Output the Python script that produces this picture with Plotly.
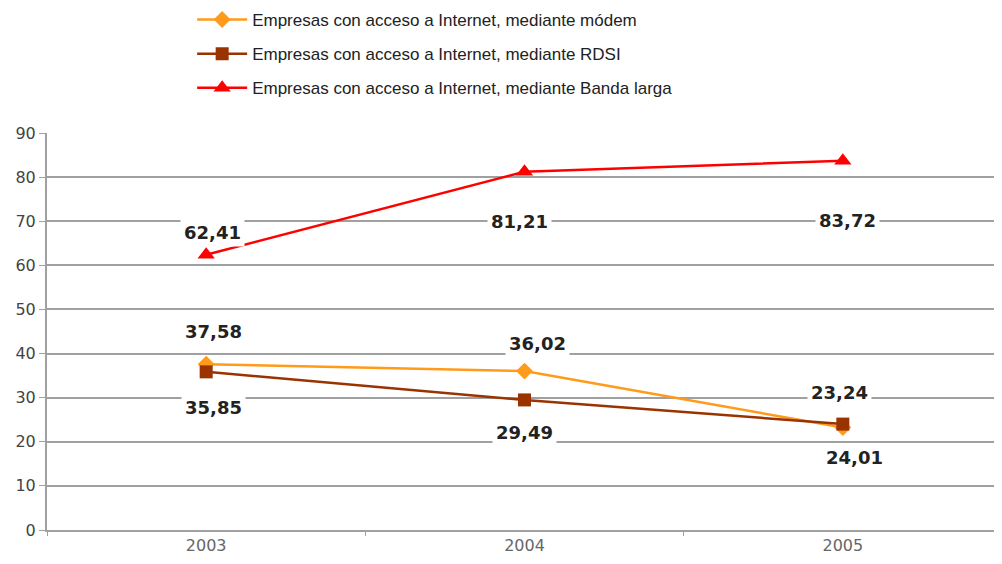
import plotly.graph_objects as go

years = ["2003", "2004", "2005"]
modem = [37.58, 36.02, 23.24]
rdsi = [35.85, 29.49, 24.01]
banda = [62.41, 81.21, 83.72]
names = [
    "Empresas con acceso a Internet, mediante módem",
    "Empresas con acceso a Internet, mediante RDSI",
    "Empresas con acceso a Internet, mediante Banda larga",
]
y_ticks = [0, 10, 20, 30, 40, 50, 60, 70, 80, 90]

# label offsets (pixels) per series/point
modem_off = [(7, 33), (13, 28), (-3, 35)]
rdsi_off = [(7, -36), (0, -33), (12, -33)]
banda_off = [(6, 22), (-5, -50), (5, -60)]

fig = go.Figure()
fig.add_trace(go.Scatter(x=years, y=modem, name=names[0], mode="lines+markers",
                         line=dict(color="#FF9A1A", width=2.5),
                         marker=dict(symbol="diamond", size=13, color="#FF9A1A"),
                         legendgroup="a"))
fig.add_trace(go.Scatter(x=years, y=rdsi, name=names[1], mode="lines+markers",
                         line=dict(color="#993300", width=2.5),
                         marker=dict(symbol="square", size=13, color="#993300"),
                         legendgroup="b"))
fig.add_trace(go.Scatter(x=years, y=banda, name=names[2], mode="lines+markers",
                         line=dict(color="#FF0000", width=2.5),
                         marker=dict(symbol="triangle-up", size=15, color="#FF0000"),
                         legendgroup="c"))

annos = []
for vals, offs in ((modem, modem_off), (rdsi, rdsi_off), (banda, banda_off)):
    for i, (v, (dx, dy)) in enumerate(zip(vals, offs)):
        annos.append(dict(x=i, y=v, xref="x", yref="y",
                          text="<b>" + f"{v:.2f}".replace(".", ",") + "</b>",
                          showarrow=False, xshift=dx, yshift=dy,
                          bgcolor="white", borderpad=3,
                          font=dict(family="DejaVu Sans", size=18, color="#222222")))

fig.update_layout(
    width=994, height=556,
    margin=dict(l=39, r=0, t=125, b=34, autoexpand=False),
    paper_bgcolor="white", plot_bgcolor="white",
    showlegend=True,
    legend=dict(x=0.152, y=1.33, xanchor="left", yanchor="top", tracegroupgap=9,
                itemwidth=50,
                font=dict(family="Liberation Sans", size=17, color="#222222"),
                bgcolor="rgba(0,0,0,0)"),
    annotations=annos,
    xaxis=dict(type="category", range=[-0.5, 2.5], showgrid=False,
               showline=True, linecolor="#A0A0A0", linewidth=2,
               ticks="outside", tickson="boundaries", ticklen=4, tickcolor="#A0A0A0",
               tickfont=dict(family="DejaVu Sans", size=16, color="#666666")),
    yaxis=dict(range=[0, 90], tickvals=y_ticks, showgrid=True,
               gridcolor="#A0A0A0", gridwidth=2, zeroline=False,
               showline=True, linecolor="#A0A0A0", linewidth=2,
               ticks="outside", ticklen=6, tickcolor="#A0A0A0",
               tickfont=dict(family="DejaVu Sans", size=16, color="#444444")),
)

fig.write_html("out.html")
